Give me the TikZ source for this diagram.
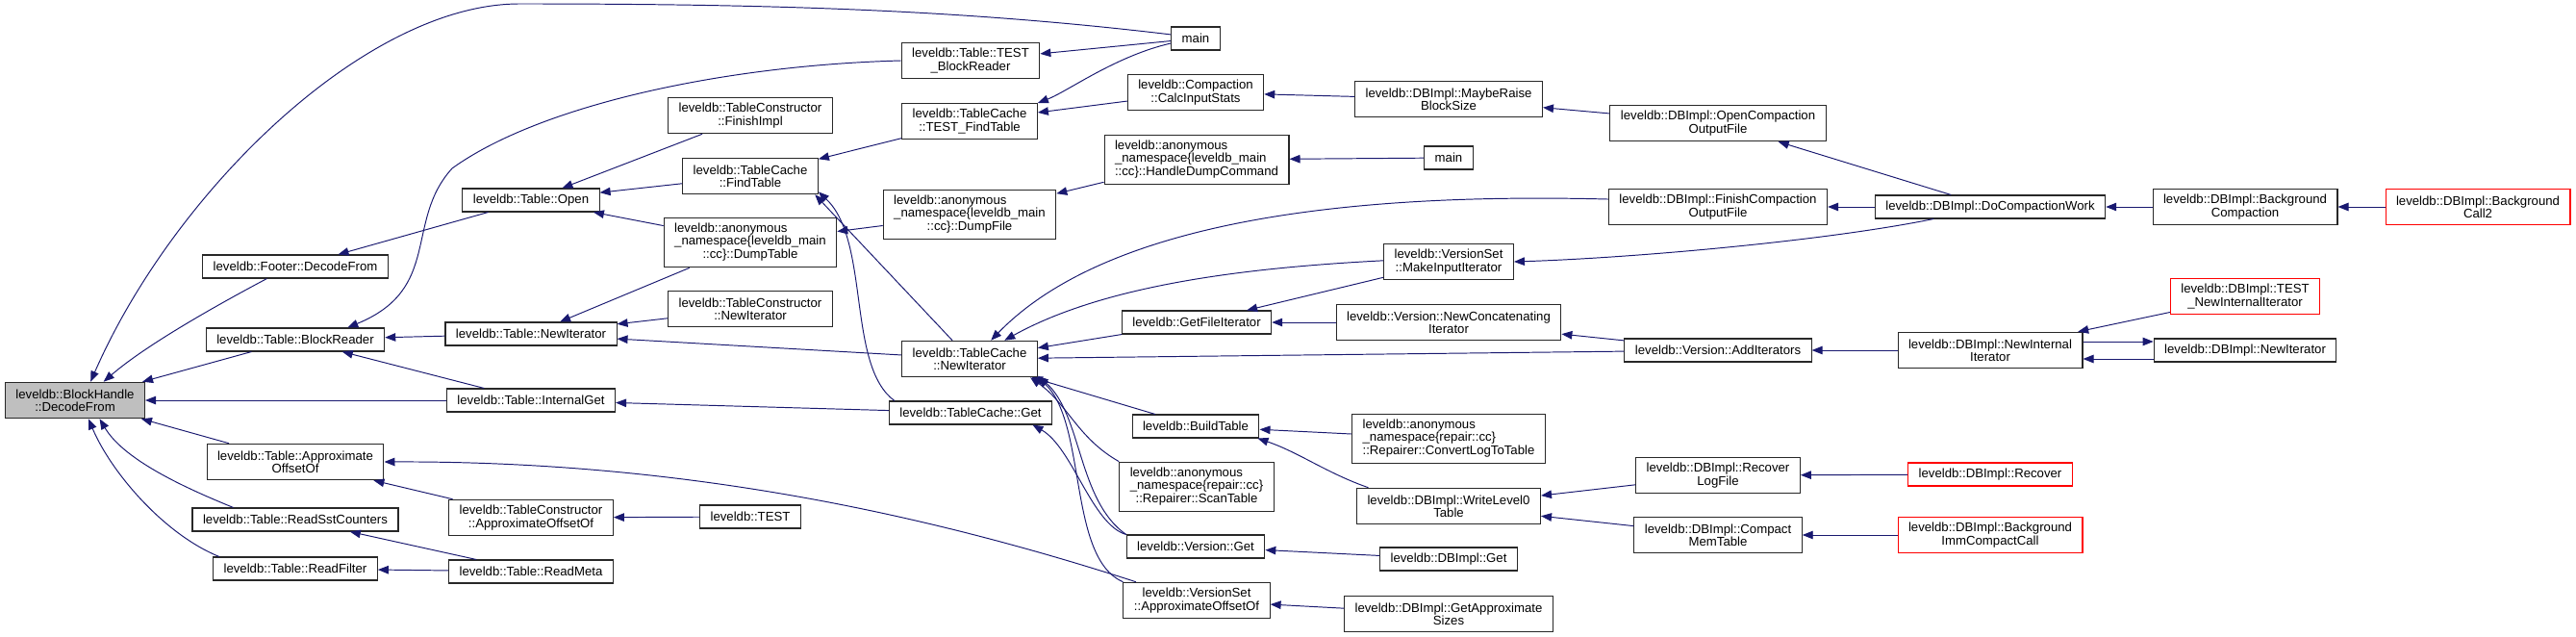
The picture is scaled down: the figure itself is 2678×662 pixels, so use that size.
\documentclass[tikz,border=0pt]{standalone}
\usepackage{fontspec}
\setmainfont{Liberation Sans}
\definecolor{dxedge}{RGB}{25,25,112}
\definecolor{dxfill}{RGB}{191,191,191}
\definecolor{dxline}{RGB}{40,40,40}
\usetikzlibrary{arrows.meta}
% three-line labels: two lines flush left, last one centred
\newcommand{\anon}[3]{\begin{tabular}{@{}l@{}}#1\\#2\\\multicolumn{1}{@{}c@{}}{#3}\end{tabular}}

\begin{document}
\begin{tikzpicture}[x=0.2mm,y=-0.2mm,
  fn/.style={draw=dxline,line width=0.6pt,fill=white,inner xsep=2.2mm,inner ysep=1.1mm,
    minimum height=4.8mm,align=center,font=\fontsize{7.5}{7.6}\selectfont},
  two/.style={minimum height=7.5mm},
  cur/.style={fn,fill=dxfill},
  trunc/.style={fn,draw=red},
  call/.style={dxedge,line width=0.55pt,-{Triangle[length=2.2mm,width=1.7mm]}}]
  \path[use as bounding box,fill=white] (0,0) rectangle (2678,662);
  % Column 1: the function itself
  \node[cur,two] (bh) at (78,416) {leveldb::BlockHandle\\::DecodeFrom};
  % Column 2
  \node[fn] (footer) at (307,277) {leveldb::Footer::DecodeFrom};
  \node[fn] (blockreader) at (307,353) {leveldb::Table::BlockReader};
  \node[fn,two] (tapprox) at (307,480) {leveldb::Table::Approximate\\OffsetOf};
  \node[fn] (readsst) at (307,540) {leveldb::Table::ReadSstCounters};
  \node[fn] (readfilter) at (307,591) {leveldb::Table::ReadFilter};
  % Column 3
  \node[fn] (open) at (552,208) {leveldb::Table::Open};
  \node[fn] (tnewiter) at (552,347) {leveldb::Table::NewIterator};
  \node[fn] (internalget) at (552,416) {leveldb::Table::InternalGet};
  \node[fn,two] (tcapprox) at (552,538) {leveldb::TableConstructor\\::ApproximateOffsetOf};
  \node[fn] (readmeta) at (552,594) {leveldb::Table::ReadMeta};
  % Column 4
  \node[fn,two] (finishimpl) at (780,120) {leveldb::TableConstructor\\::FinishImpl};
  \node[fn,two] (findtable) at (780,183) {leveldb::TableCache\\::FindTable};
  \node[fn] (dumptable) at (780,252) {\anon{leveldb::anonymous}{\_namespace\{leveldb\_main}{::cc\}::DumpTable}};
  \node[fn,two] (tcnewiter) at (780,321) {leveldb::TableConstructor\\::NewIterator};
  \node[fn] (test) at (780,537) {leveldb::TEST};
  % Column 5
  \node[fn,two] (testblockreader) at (1009,63) {leveldb::Table::TEST\\\_BlockReader};
  \node[fn,two] (testfindtable) at (1008,126) {leveldb::TableCache\\::TEST\_FindTable};
  \node[fn] (dumpfile) at (1008,223) {\anon{leveldb::anonymous}{\_namespace\{leveldb\_main}{::cc\}::DumpFile}};
  \node[fn,two] (cachenewiter) at (1008,373) {leveldb::TableCache\\::NewIterator};
  \node[fn] (cacheget) at (1009,429) {leveldb::TableCache::Get};
  % Column 6
  \node[fn] (main) at (1243,40) {main};
  \node[fn,two] (calcstats) at (1243,96) {leveldb::Compaction\\::CalcInputStats};
  \node[fn] (handledump) at (1244,166) {\anon{leveldb::anonymous}{\_namespace\{leveldb\_main}{::cc\}::HandleDumpCommand}};
  \node[fn] (getfileiter) at (1244,335) {leveldb::GetFileIterator};
  \node[fn] (buildtable) at (1243,443) {leveldb::BuildTable};
  \node[fn] (scantable) at (1244,506) {\anon{leveldb::anonymous}{\_namespace\{repair::cc\}}{::Repairer::ScanTable}};
  \node[fn] (versionget) at (1243,568) {leveldb::Version::Get};
  \node[fn,two] (vsapprox) at (1244,624) {leveldb::VersionSet\\::ApproximateOffsetOf};
  % Column 7
  \node[fn,two] (raiseblock) at (1506,103) {leveldb::DBImpl::MaybeRaise\\BlockSize};
  \node[fn] (main2) at (1506,164) {main};
  \node[fn,two] (makeinput) at (1506,272) {leveldb::VersionSet\\::MakeInputIterator};
  \node[fn,two] (newconcat) at (1506,335) {leveldb::Version::NewConcatenating\\Iterator};
  \node[fn] (convertlog) at (1506,456) {\anon{leveldb::anonymous}{\_namespace\{repair::cc\}}{::Repairer::ConvertLogToTable}};
  \node[fn,two] (writelevel0) at (1506,526) {leveldb::DBImpl::WriteLevel0\\Table};
  \node[fn] (dbget) at (1506,581) {leveldb::DBImpl::Get};
  \node[fn,two] (approxsizes) at (1506,638) {leveldb::DBImpl::GetApproximate\\Sizes};
  % Column 8
  \node[fn,two] (opencompaction) at (1786,128) {leveldb::DBImpl::OpenCompaction\\OutputFile};
  \node[fn,two] (finishcompaction) at (1786,215) {leveldb::DBImpl::FinishCompaction\\OutputFile};
  \node[fn] (additerators) at (1786,364) {leveldb::Version::AddIterators};
  \node[fn,two] (recoverlog) at (1786,494) {leveldb::DBImpl::Recover\\LogFile};
  \node[fn,two] (compactmem) at (1786,556) {leveldb::DBImpl::Compact\\MemTable};
  % Column 9
  \node[fn] (docompaction) at (2069,215) {leveldb::DBImpl::DoCompactionWork};
  \node[fn,two] (newinternal) at (2069,364) {leveldb::DBImpl::NewInternal\\Iterator};
  \node[trunc] (recover) at (2069,493) {leveldb::DBImpl::Recover};
  \node[trunc,two] (bgimm) at (2069,556) {leveldb::DBImpl::Background\\ImmCompactCall};
  % Column 10
  \node[fn,two] (bgcompaction) at (2334,215) {leveldb::DBImpl::Background\\Compaction};
  \node[trunc,two] (testnewinternal) at (2334,308) {leveldb::DBImpl::TEST\\\_NewInternalIterator};
  \node[fn] (dbnewiter) at (2334,364) {leveldb::DBImpl::NewIterator};
  % Column 11
  \node[trunc,two] (bgcall2) at (2576,215) {leveldb::DBImpl::Background\\Call2};
  % Straight calls (caller/callee)
  \foreach \from/\to in {internalget/bh,blockreader/bh,tapprox/bh,open/footer,
      tnewiter/blockreader,internalget/blockreader,finishimpl/open,findtable/open,
      dumptable/open,main/testblockreader,calcstats/testfindtable,raiseblock/calcstats,
      opencompaction/raiseblock,docompaction/opencompaction,testfindtable/findtable,
      main2/handledump,handledump/dumpfile,dumpfile/dumptable,dumptable/tnewiter,
      tcnewiter/tnewiter,cachenewiter/tnewiter,cacheget/internalget,tcapprox/tapprox,
      test/tcapprox,readmeta/readsst,readmeta/readfilter,getfileiter/cachenewiter,
      additerators/cachenewiter,buildtable/cachenewiter,convertlog/buildtable,
      recoverlog/writelevel0,compactmem/writelevel0,recover/recoverlog,bgimm/compactmem,
      dbget/versionget,approxsizes/vsapprox,makeinput/getfileiter,newconcat/getfileiter,
      additerators/newconcat,newinternal/additerators,testnewinternal/newinternal,
      docompaction/finishcompaction,bgcompaction/docompaction,bgcall2/bgcompaction}
    \draw[call] (\from) -- (\to);
  % Curved calls into BlockHandle::DecodeFrom
  \draw[call] (main.171) .. controls (1000,10) and (800,4) .. (540,4)
    .. controls (380,4) and (180,200) .. (bh.50);
  \draw[call] (footer.203) .. controls (220,320) and (150,360) .. (bh.33);
  \draw[call] (readsst.169) .. controls (200,510) and (130,480) .. (bh.-37);
  \draw[call] (readfilter.171) .. controls (170,555) and (115,490) .. (bh.-54);
  % Test callers
  \draw[call] (main.191) .. controls (1160,58) and (1110,95) .. (testfindtable.15);
  \draw[call] (testblockreader.west) .. controls (750,68) and (560,110) .. (470,175)
    .. controls (420,230) and (460,300) .. (blockreader.13);
  % TableCache
  \draw[call] (cachenewiter.133) -- (findtable.-16);
  \draw[call] (cacheget.171) .. controls (880,380) and (905,250) .. (findtable.-13);
  \draw[call] (vsapprox.163) .. controls (950,530) and (700,479) .. (tapprox.east);
  \draw[call] (finishcompaction.176) .. controls (1400,200) and (1150,230) .. (cachenewiter.41);
  \draw[call] (makeinput.179) .. controls (1300,278) and (1150,295) .. (cachenewiter.28);
  \draw[call] (scantable.north west) .. controls (1120,455) and (1110,420) .. (cachenewiter.-17);
  \draw[call] (versionget.north west) .. controls (1120,520) and (1125,430) .. (cachenewiter.-14);
  \draw[call] (vsapprox.north west) .. controls (1110,580) and (1130,440) .. (cachenewiter.-15);
  \draw[call] (versionget.north west) .. controls (1135,545) and (1115,465) .. (cacheget.-11);
  % DBImpl side
  \draw[call] (writelevel0.167) .. controls (1380,492) and (1350,470) .. (buildtable.-11);
  \draw[call] (docompaction.192) .. controls (1900,250) and (1700,268) .. (makeinput.east);
  \draw[call] ([yshift=1.8mm]newinternal.east) -- ([yshift=1.8mm]dbnewiter.west);
  \draw[call] ([yshift=-1.8mm]dbnewiter.west) -- ([yshift=-1.8mm]newinternal.east);
\end{tikzpicture}
\end{document}
